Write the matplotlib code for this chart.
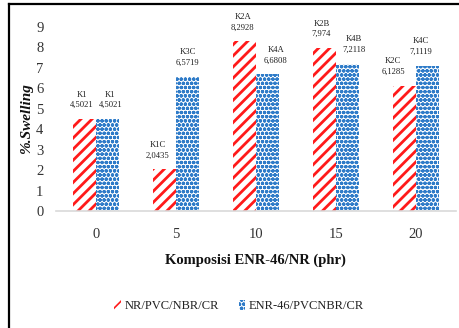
import numpy as np
import matplotlib as mpl
mpl.use('Agg')
import matplotlib.pyplot as plt
from matplotlib.lines import Line2D

# swelling data per ENR-46 content
komposisi = ['0', '5', '10', '15', '20']
nr_blend = [4.5021, 2.0435, 8.2928, 7.974, 6.1285]
enr_blend = [4.5021, 6.5719, 6.6808, 7.2118, 7.1119]
nr_codes = ['K1', 'K1C', 'K2A', 'K2B', 'K2C']
enr_codes = ['K1', 'K3C', 'K4A', 'K4B', 'K4C']
series_names = ['NR/PVC/NBR/CR', 'ENR-46/PVCNBR/CR']
y_ticks = list(range(0, 10))

serif = ['Liberation Serif', 'DejaVu Serif']
plt.rcParams['font.family'] = serif

red = '#FF1A1A'
blue = '#2E7BC8'

fig = plt.figure(figsize=(4.6, 3.28), dpi=100)
ax = fig.add_axes([0.1217, 0.3567, 0.869, 0.561])

x = np.arange(len(komposisi))
w = 0.29
plt.rcParams['hatch.linewidth'] = 2.0
b1 = ax.bar(x - w / 2, nr_blend, w, color='white', edgecolor=red,
            hatch='///', linewidth=0, label=series_names[0])
plt.rcParams['hatch.linewidth'] = 1.2
b2 = ax.bar(x + w / 2, enr_blend, w, color='white', edgecolor=blue,
            hatch='oooo', linewidth=0, label=series_names[1])


def fmt(v):
    return ('%g' % v).replace('.', ',')


# small sideways nudges (points) so neighbouring labels don't collide
nudge_nr = [-2, -5, -1, -2, -8]
nudge_enr = [2, 0, 6, 5, -5]

for bars, vals, codes, nudge in ((b1, nr_blend, nr_codes, nudge_nr),
                                 (b2, enr_blend, enr_codes, nudge_enr)):
    for bar, v, c, dx in zip(bars, vals, codes, nudge):
        ax.annotate('%s\n%s' % (c, fmt(v)),
                    (bar.get_x() + bar.get_width() / 2, v),
                    xytext=(dx, 7), textcoords='offset points',
                    ha='center', va='bottom', fontsize=6.2,
                    linespacing=1.45, color='#222222', annotation_clip=False)

ax.set_xlim(-0.5, len(komposisi) - 0.5)
ax.set_ylim(0, 9)
ax.set_xticks(x)
ax.set_xticklabels(komposisi, fontsize=10.5, color='#333333')
ax.set_yticks(y_ticks)
ax.set_yticklabels([str(t) for t in y_ticks], fontsize=10.5, color='#333333')
ax.tick_params(length=0, pad=9)
ax.tick_params(axis='x', pad=12)
for s in ['top', 'right', 'left']:
    ax.spines[s].set_visible(False)
ax.spines['bottom'].set_color('#d9d9d9')
ax.spines['bottom'].set_linewidth(1.2)

ax.set_xlabel('Komposisi ENR-46/NR (phr)', fontsize=10.5,
              fontweight='bold', labelpad=9, color='#111111')
ax.set_ylabel('%.Swelling', fontsize=11, fontweight='bold',
              fontstyle='italic', labelpad=2, color='#111111')

leg = fig.legend(handles=[b1, b2], loc='center', bbox_to_anchor=(0.52, 0.067),
                 ncol=2, frameon=False, fontsize=9, handlelength=0.5,
                 handleheight=0.8, handletextpad=0.3, columnspacing=1.6)
for t in leg.get_texts():
    t.set_color('#222222')

# black frame on the top and left edges
fig.add_artist(Line2D([0.0196, 0.0196], [0.0, 0.988], transform=fig.transFigure,
                      color='black', linewidth=1.6))
fig.add_artist(Line2D([0.0196, 1.0], [0.988, 0.988], transform=fig.transFigure,
                      color='black', linewidth=1.6))

fig.savefig('out.png', dpi=100)
